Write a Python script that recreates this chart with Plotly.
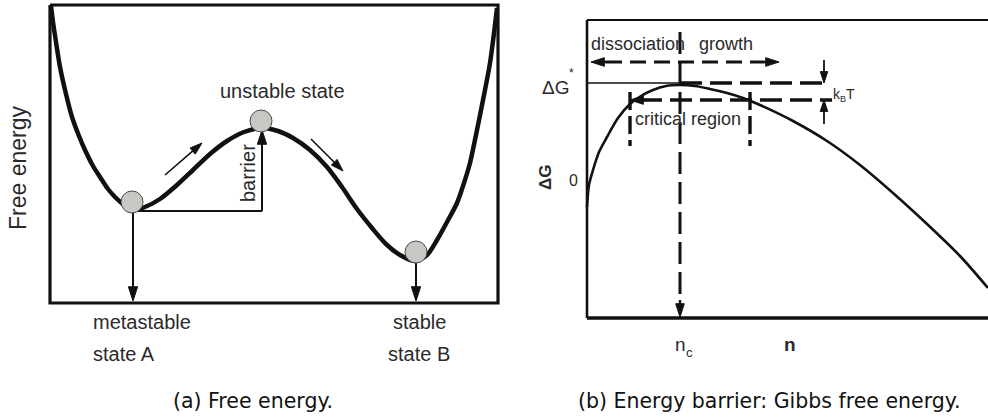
import plotly.graph_objects as go

# ---------------- data ----------------
# (a) double-well free-energy profile (reaction coordinate, free energy; screen units, y down)
well_x = [51, 53, 56, 60, 66, 72, 79, 85, 93, 100, 108, 115, 124, 133, 145, 160, 177, 193, 210, 227, 244, 262,
          278, 293, 310, 327, 342, 357, 372, 386, 400, 415, 427, 437, 447, 457, 464, 470, 477, 483, 490, 497]
well_y = [6, 22, 42, 67, 94, 117, 136, 150, 166, 177, 189, 197, 205, 210, 207, 199, 185, 170, 154, 141, 132, 128,
          131, 138, 150, 167, 187, 209, 228, 244, 255, 261, 255, 240, 222, 203, 183, 163, 130, 100, 63, 8]
ball_x = [132, 261, 416]
ball_y = [202, 121, 252]

# (b) Gibbs free energy vs cluster size n
gibbs_x = [587, 589, 593, 599, 607, 618, 630, 641, 653, 666, 680, 695, 710, 727, 743, 760, 793, 827, 860, 893,
           927, 960, 988]
gibbs_y = [207, 185, 170, 152, 137, 118, 104, 96, 90, 86, 85, 86, 89, 93, 98, 105, 121, 141, 165, 193, 224, 256, 288]
n_c = 680
dG_star = 84
dG_kT = 100
crit_lo, crit_hi = 630, 750

GREY = "#111111"
TXT = "#2a2a2a"
SANS = "Liberation Sans, Arial, sans-serif"
CAP = "DejaVu Sans, sans-serif"

fig = go.Figure()


def seg(xs, ys, width=2, dash="solid", color=GREY):
    fig.add_trace(go.Scatter(x=xs, y=ys, mode="lines", hoverinfo="skip",
                             line=dict(color=color, width=width, dash=dash)))


def arrow(xt, yt, xh, yh, width=2, size=15):
    # line from tail to head with a filled arrow marker at the head
    fig.add_trace(go.Scatter(x=[xt, xh], y=[yt, yh], mode="lines+markers", hoverinfo="skip",
                             line=dict(color=GREY, width=width),
                             marker=dict(symbol="arrow", size=[0, size], angleref="previous",
                                         color=GREY, opacity=1, line=dict(width=1, color=GREY))))


def text(x, y, s, size=20, angle=0, family=SANS, xanchor="center", color=TXT, weight="normal"):
    fig.add_annotation(x=x, y=y, xref="x", yref="y", text=s, showarrow=False, textangle=angle,
                       font=dict(family=family, size=size, color=color, weight=weight),
                       xanchor=xanchor, yanchor="middle")


# ---------------- panel (a) ----------------
seg([50, 498, 498, 50, 50], [5, 5, 303, 303, 5], width=3.2)
fig.add_trace(go.Scatter(x=well_x, y=well_y, mode="lines", hoverinfo="skip",
                         line=dict(color="#111", width=4.5, shape="spline", smoothing=0.8)))
# barrier construction
seg([133, 262], [211, 211], width=2)
arrow(262, 211, 262, 130, width=2, size=15)
# state projections
arrow(133, 212, 133, 301, width=2, size=15)
arrow(416, 262, 416, 301, width=2, size=15)
# direction arrows along the path
arrow(165, 175, 202, 143, width=1.6, size=13)
arrow(311, 139, 343, 171, width=1.6, size=13)
fig.add_trace(go.Scatter(x=ball_x, y=ball_y, mode="markers", hoverinfo="skip",
                         marker=dict(size=22, color="#c9c7c4", line=dict(color="#4a4a4a", width=1))))

text(282, 91, "unstable state", 20)
text(248, 173, "barrier", 20, angle=-90)
text(18, 168, "Free energy", 23, angle=-90)
text(91, 322, "metastable", 20, xanchor="left")
text(91, 354, "state A", 20, xanchor="left")
text(419, 322, "stable", 20)
text(419, 354, "state B", 20)
text(253, 401, "(a) Free energy.", 20.5, family=CAP, color="#111")

# ---------------- panel (b) ----------------
seg([587, 587], [20, 318], width=2.6)
seg([587, 990], [20, 20], width=2)
seg([587, 990], [318, 318], width=3.4)
fig.add_trace(go.Scatter(x=gibbs_x, y=gibbs_y, mode="lines", hoverinfo="skip",
                         line=dict(color="#111", width=2.6, shape="spline", smoothing=0.8)))
# Delta G* level
seg([587, n_c], [dG_star - 1, dG_star - 1], width=1.6)
seg([n_c, 826], [dG_star - 1, dG_star - 1], width=3.4, dash="22px,8px")
# kT level and critical region
seg([crit_lo + 10, 832], [dG_kT, dG_kT], width=3.4, dash="22px,8px")
arrow(648, dG_kT, crit_lo, dG_kT, width=2.4, size=14)
seg([crit_lo, crit_lo], [92, 146], width=3.4, dash="18px,6px")
seg([crit_hi, crit_hi], [92, 146], width=3.4, dash="18px,6px")
# n_c vertical
seg([n_c, n_c], [32, 298], width=3, dash="22px,8px")
arrow(n_c, 300, n_c, 317, width=2.4, size=14)
# dissociation / growth arrow
seg([606, 764], [62, 62], width=2.8, dash="16px,8px")
arrow(606, 62, 591, 62, width=2.6, size=14)
arrow(764, 62, 779, 62, width=2.6, size=14)
# kBT markers
arrow(824, 60, 824, 83, width=1.8, size=12)
arrow(824, 124, 824, 100, width=1.8, size=12)

text(555, 87, "ΔG", 19)
text(571, 73, "*", 12)
text(573, 180, "0", 16)
text(545, 178, "ΔG", 17, angle=-90, weight="bold")
text(589, 44, "dissociation", 18, xanchor="left")
text(697, 44, "growth", 18, xanchor="left")
text(633, 119, "critical region", 18, xanchor="left")
text(831, 94, "k", 14, xanchor="left")
text(838, 99, "B", 9, xanchor="left")
text(844, 94, "T", 14, xanchor="left")
text(680, 344, "n", 19)
text(689, 352, "c", 13)
text(790, 344, "n", 19, weight="bold")
text(769, 401, "(b) Energy barrier: Gibbs free energy.", 20.5, family=CAP, color="#111")

fig.update_layout(width=988, height=419, margin=dict(l=0, r=0, t=0, b=0),
                  paper_bgcolor="white", plot_bgcolor="white", showlegend=False,
                  xaxis=dict(range=[0, 988], visible=False, fixedrange=True),
                  yaxis=dict(range=[419, 0], visible=False, fixedrange=True))
fig.write_html("out.html")
